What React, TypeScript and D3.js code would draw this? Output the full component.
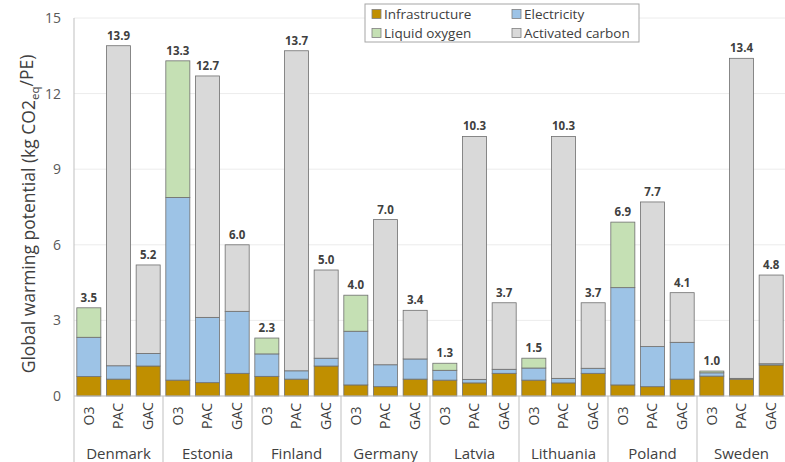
import React from "react";
import * as d3 from "d3";

const countries = ["Denmark", "Estonia", "Finland", "Germany", "Latvia", "Lithuania", "Poland", "Sweden"];
const methods = ["O3", "PAC", "GAC"];
const seriesNames = ["Infrastructure", "Electricity", "Liquid oxygen", "Activated carbon"];
const seriesColors = ["#C08F00", "#9DC3E6", "#C5E0B4", "#D9D9D9"];

// values per bar, order: country x method
const infrastructure = [0.77, 0.67, 1.19, 0.63, 0.53, 0.9, 0.78, 0.67, 1.19, 0.44, 0.37, 0.67, 0.63, 0.52, 0.9, 0.63, 0.52, 0.9, 0.44, 0.37, 0.67, 0.79, 0.67, 1.23];
const electricity = [1.56, 0.53, 0.5, 7.25, 2.59, 2.46, 0.89, 0.33, 0.31, 2.13, 0.87, 0.8, 0.39, 0.14, 0.16, 0.48, 0.18, 0.2, 3.86, 1.59, 1.46, 0.13, 0.03, 0.05];
const liquidOxygen = [1.17, 0, 0, 5.42, 0, 0, 0.63, 0, 0, 1.43, 0, 0, 0.28, 0, 0, 0.39, 0, 0, 2.6, 0, 0, 0.07, 0, 0];
const activatedCarbon = [0, 12.7, 3.51, 0, 9.58, 2.64, 0, 12.7, 3.5, 0, 5.76, 1.93, 0, 9.64, 2.64, 0, 9.6, 2.6, 0, 5.74, 1.97, 0, 12.7, 3.52];
const totalLabels = ["3.5", "13.9", "5.2", "13.3", "12.7", "6.0", "2.3", "13.7", "5.0", "4.0", "7.0", "3.4", "1.3", "10.3", "3.7", "1.5", "10.3", "3.7", "6.9", "7.7", "4.1", "1.0", "13.4", "4.8"];
const yTicks = [0, 3, 6, 9, 12, 15];

const W = 785, H = 462;
const left = 74, right = 786, top = 18, bottom = 396;
const FONT = "'Open Sans', 'Liberation Sans', sans-serif";

export default function App() {
  const x0 = d3.scaleBand<string>().domain(countries).range([left, right]).padding(0);
  const x1 = d3.scaleBand<string>().domain(methods).range([0, x0.bandwidth()]).paddingInner(0.19).paddingOuter(0.095);
  const y = d3.scaleLinear().domain([0, 15]).range([bottom, top]);

  const rows = countries.flatMap((c, ci) =>
    methods.map((m, mi) => {
      const i = ci * 3 + mi;
      return { c, m, i, Infrastructure: infrastructure[i], Electricity: electricity[i], "Liquid oxygen": liquidOxygen[i], "Activated carbon": activatedCarbon[i] };
    })
  );
  const stack = d3.stack<any>().keys(seriesNames)(rows);

  return (
    <div style={{ position: "fixed", left: 0, top: 0 }}>
      <svg width={W} height={H} style={{ display: "block", fontFamily: FONT }}>
        <rect width={W} height={H} fill="#fff" />
        {yTicks.map((t) => (
          <g key={t}>
            {t > 0 && <line x1={left} x2={right} y1={y(t)} y2={y(t)} stroke="#ececec" strokeWidth={1} />}
            <text x={61} y={y(t)} dy="0.35em" textAnchor="end" fontSize={14} fill="#595959">{t}</text>
          </g>
        ))}
        <line x1={left} x2={left} y1={top} y2={H} stroke="#bfbfbf" />
        {countries.slice(1).map((c) => (
          <line key={c} x1={x0(c)!} x2={x0(c)!} y1={bottom} y2={H} stroke="#bfbfbf" />
        ))}
        {stack.map((s, si) => (
          <g key={s.key}>
            {s.map((d, di) => {
              const r = rows[di];
              const h = y(d[0]) - y(d[1]);
              if (h <= 0) return null;
              return (
                <rect
                  key={di}
                  x={x0(r.c)! + x1(r.m)!}
                  y={y(d[1])}
                  width={x1.bandwidth()}
                  height={h}
                  fill={seriesColors[si]}
                  stroke="#6f6f6f"
                  strokeWidth={0.8}
                />
              );
            })}
          </g>
        ))}
        <line x1={left} x2={right} y1={bottom} y2={bottom} stroke="#bfbfbf" />
        {rows.map((r, i) => {
          const tot = infrastructure[i] + electricity[i] + liquidOxygen[i] + activatedCarbon[i];
          return (
            <text key={"v" + i} x={x0(r.c)! + x1(r.m)! + x1.bandwidth() / 2} y={y(tot) - 6} textAnchor="middle" fontSize={11.5} fontWeight="bold" fill="#404040">
              {totalLabels[i]}
            </text>
          );
        })}
        {rows.map((r, i) => {
          const cx = x0(r.c)! + x1(r.m)! + x1.bandwidth() / 2;
          return (
            <text key={"m" + i} transform={`translate(${cx},416) rotate(-90)`} textAnchor="middle" dy="0.35em" fontSize={14} fill="#404040">
              {r.m}
            </text>
          );
        })}
        {countries.map((c) => (
          <text key={"c" + c} x={x0(c)! + x0.bandwidth() / 2} y={454} dy="0.35em" textAnchor="middle" fontSize={15} fill="#404040">
            {c}
          </text>
        ))}
        <text transform={`translate(29,214) rotate(-90)`} textAnchor="middle" dy="0.35em" fontSize={17.5} fill="#404040">
          Global warming potential (kg CO2<tspan fontSize={11.5} dy="0.3em">eq</tspan><tspan dy="-0.3em">/PE)</tspan>
        </text>
        <g>
          <rect x={365} y={4} width={274} height={38} fill="#fff" stroke="#a6a6a6" />
          {seriesNames.map((n, i) => {
            const col = i % 2, row = Math.floor(i / 2);
            const lx = 372 + col * 140, ly = 14 + row * 19;
            return (
              <g key={n}>
                <rect x={lx} y={ly - 4.5} width={9} height={9} fill={seriesColors[i]} stroke="#7f7f7f" strokeWidth={0.8} />
                <text x={lx + 12} y={ly} dy="0.35em" fontSize={13.5} fill="#404040">{n}</text>
              </g>
            );
          })}
        </g>
      </svg>
    </div>
  );
}
